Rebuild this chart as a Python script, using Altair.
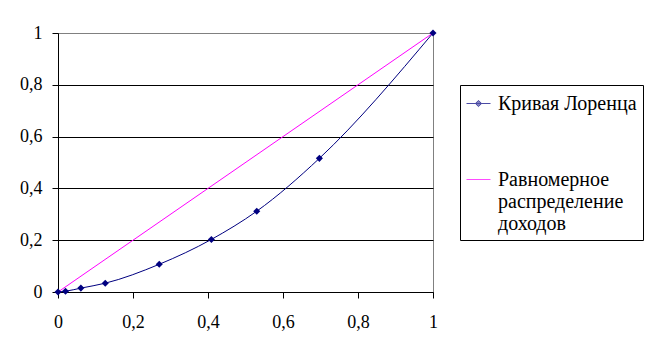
import altair as alt
import pandas as pd

# Data
x_lorenz = [0, 0.02, 0.061, 0.126, 0.27, 0.409, 0.53, 0.697, 1]
y_lorenz = [0, 0.003, 0.015, 0.034, 0.107, 0.203, 0.312, 0.516, 1]
x_equal = [0, 1]
y_equal = [0, 1]
series = ["Кривая Лоренца", "Равномерное распределение доходов"]
colors = ["#000080", "#FF00FF"]
x_ticks = [0, 0.2, 0.4, 0.6, 0.8, 1]
y_ticks = [0, 0.2, 0.4, 0.6, 0.8, 1]

df = pd.DataFrame(
    {"x": x_lorenz, "y": y_lorenz, "series": [series[0]] * len(x_lorenz)}
)
df2 = pd.DataFrame({"x": x_equal, "y": y_equal, "series": [series[1]] * len(x_equal)})
data = pd.concat([df, df2], ignore_index=True)

FONT = "Liberation Serif"
label_expr = "replace(format(datum.value, '~g'), '.', ',')"

x_enc = alt.X(
    "x:Q",
    scale=alt.Scale(domain=[0, 1], nice=False),
    axis=alt.Axis(
        values=x_ticks, title=None, grid=False, labelExpr=label_expr,
        tickSize=6, labelPadding=15, domainColor="black", tickColor="black",
        labelFont=FONT, labelFontSize=18, labelColor="black", labelFlush=False,
    ),
)
y_enc = alt.Y(
    "y:Q",
    scale=alt.Scale(domain=[0, 1], nice=False),
    axis=alt.Axis(
        values=y_ticks, title=None, labelExpr=label_expr,
        tickSize=6, labelPadding=10, domainColor="black", tickColor="black",
        labelFont=FONT, labelFontSize=18, labelColor="black", labelFlush=False,
        gridColor={"condition": {"test": "datum.value === 1", "value": "#808080"}, "value": "black"},
        gridOpacity=1, gridWidth=1,
    ),
)

base = alt.Chart(data)

lines = base.mark_line(strokeWidth=1, interpolate="monotone").encode(
    x=x_enc, y=y_enc,
    color=alt.Color("series:N", scale=alt.Scale(domain=series, range=colors), legend=None),
)

points = base.transform_filter(alt.datum.series == series[0]).mark_point(
    shape="diamond", filled=True, size=50, color=colors[0], opacity=1
).encode(x="x:Q", y="y:Q")

legend_paths = [
    "M-1,0L1,0M0,-0.26L0.26,0L0,0.26L-0.26,0Z",
    "M-1,0L1,0",
]

leg = alt.Legend(
    orient="none", legendX=402, legendY=52,
    strokeColor="black", fillColor="white", padding=6,
    symbolSize=576, symbolStrokeWidth=1, labelOffset=7,
    labelFont=FONT, labelFontSize=20, labelColor="black", labelLimit=300,
    labelExpr="datum.label == 'Кривая Лоренца' ? datum.label : split(datum.label, ' ')",
    rowPadding=53, title=None,
)

legend_layer = base.mark_point(filled=True, size=0, strokeWidth=0).encode(
    x="x:Q", y="y:Q",
    fill=alt.Fill("series:N", scale=alt.Scale(domain=series, range=colors), legend=leg),
    stroke=alt.Stroke("series:N", scale=alt.Scale(domain=series, range=colors), legend=leg),
    shape=alt.Shape("series:N", scale=alt.Scale(domain=series, range=legend_paths), legend=leg),
)

chart = (
    alt.layer(lines, points, legend_layer)
    .resolve_scale(color="independent")
    .properties(
        width=375, height=259,
        autosize=alt.AutoSizeParams(type="none"),
        padding={"left": 50, "top": 25, "right": 211, "bottom": 47},
        background="white",
    )
    .configure_view(stroke="#808080", strokeWidth=1)
)

chart.save("out.html", embed_options={"renderer": "svg", "actions": False})
